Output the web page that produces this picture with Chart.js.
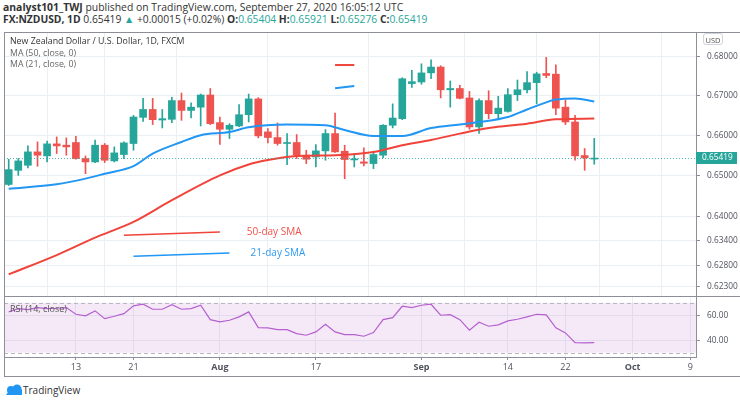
<!DOCTYPE html>
<html>
<head>
<meta charset="utf-8">
<script src="https://cdn.jsdelivr.net/npm/chart.js@4.4.0/dist/chart.umd.min.js"></script>
<style>
  body { margin: 0; background: #fff; font-family: "Open Sans", sans-serif; }
  #wrap { position: relative; width: 740px; height: 403px; overflow: hidden; }
  .abs { position: absolute; white-space: nowrap; }
  #head1 { left: 3px; top: 0px; font-size: 10.4px; color: #333; }
  #head2 { left: 3px; top: 12px; font-size: 10.3px; color: #333; }
  .up { color: #26a69a; }
  #frame { left: 4px; top: 32px; width: 740px; height: 345px; border-left: 1px solid #8c8f98; border-top: 1px solid #8c8f98; border-bottom: 1px solid #8c8f98; box-sizing: border-box; }
  #sep { left: 4px; top: 296px; width: 736px; height: 1px; background: #8c8f98; }
  #mainBox { left: 0; top: 32px; width: 740px; height: 265px; }
  #rsiBox { left: 0; top: 297px; width: 740px; height: 80px; }
  #legend { left: 10px; top: 36px; font-size: 8.8px; line-height: 11.5px; color: #666; }
  #legend div:first-child { color: #333; }
  #rsiTitle { left: 10px; top: 302px; font-size: 9px; color: #555; }
  #usd { left: 703px; top: 33px; width: 20px; height: 12px; border: 1px solid #d0d3d9; border-radius: 3px; font-size: 7.5px; color: #555; text-align: center; line-height: 12px; box-sizing: border-box; background: #fff; }
  #logo { left: 5px; top: 383px; font-size: 10px; color: #333; }
</style>
</head>
<body>
<div id="wrap">
  <div id="head1" class="abs"><b>analyst101_TWJ</b> published on TradingView.com, September 27, 2020 16:05:12 UTC</div>
  <div id="head2" class="abs"><b>FX:NZDUSD, 1D</b> 0.65419 <span class="up">&#9650;</span> +0.00015 (+0.02%) <b>O:</b><span class="up">0.65404</span> <b>H:</b><span class="up">0.65921</span> <b>L:</b><span class="up">0.65276</span> <b>C:</b><span class="up">0.65419</span></div>
  <div id="mainBox" class="abs"><canvas id="main" width="740" height="265"></canvas></div>
  <div id="rsiBox" class="abs"><canvas id="rsi" width="740" height="80"></canvas></div>
  <div id="frame" class="abs"></div>
  <div id="sep" class="abs"></div>
  <div id="legend" class="abs"><div>New Zealand Dollar / U.S. Dollar, 1D, FXCM</div><div>MA (50, close, 0)</div><div>MA (21, close, 0)</div></div>
  <div id="rsiTitle" class="abs">RSI (14, close)</div>
  <div id="usd" class="abs">USD</div>
  <div id="logo" class="abs">
    <svg width="18" height="12" viewBox="0 0 18 12" style="vertical-align:-2px"><path d="M1 11 L6 4 L10 8 L14 2 L17 6 L17 11 Z" fill="#2196f3"/><circle cx="6" cy="6" r="4" fill="#2196f3"/><circle cx="12" cy="5" r="4.5" fill="#2196f3"/></svg>TradingView
  </div>
</div>
<script>
// daily candles, index 0 = Jul 2 2020 ... 61 = Sep 25 2020
var open  = [0.64775,0.65125,0.65250,0.65583,0.65483,0.65783,0.65750,0.65817,0.65417,0.65333,
             0.65750,0.65358,0.65517,0.65792,0.66450,0.66650,0.66383,0.66400,0.66875,0.66625,
             0.66708,0.67017,0.66317,0.66150,0.66233,0.66517,0.66917,0.66083,0.65942,0.65792,
             0.65817,0.65500,0.65458,0.65608,0.66042,0.65600,0.65383,0.65333,0.65292,0.65500,
             0.66250,0.66417,0.67308,0.67350,0.67583,0.67733,0.67150,0.67183,0.66942,0.66208,
             0.66875,0.66542,0.66600,0.67025,0.67150,0.67333,0.67567,0.67550,0.66708,0.66333,
             0.65492,0.65404];
var high  = [0.65400,0.65417,0.65733,0.65833,0.65850,0.65958,0.65933,0.65975,0.65483,0.65875,
             0.65792,0.65708,0.65833,0.66500,0.66933,0.66933,0.66650,0.66958,0.67067,0.66817,
             0.67042,0.67183,0.66458,0.66292,0.66775,0.67042,0.66950,0.66167,0.66308,0.66042,
             0.66017,0.65625,0.65767,0.66142,0.66558,0.65750,0.65542,0.65683,0.65600,0.66267,
             0.66792,0.67458,0.67650,0.67817,0.67917,0.67767,0.67375,0.67267,0.67108,0.66917,
             0.67125,0.66983,0.67183,0.67400,0.67617,0.67600,0.67983,0.67792,0.66892,0.66500,
             0.65667,0.65921];
var low   = [0.64750,0.65000,0.65183,0.65225,0.65333,0.65542,0.65500,0.65400,0.65042,0.65317,
             0.65317,0.65333,0.65417,0.65625,0.66350,0.66267,0.66183,0.66317,0.66375,0.66433,
             0.66233,0.66267,0.65767,0.65917,0.66217,0.66333,0.65933,0.65808,0.65750,0.65267,
             0.65417,0.65292,0.65208,0.65375,0.65567,0.64917,0.65208,0.65233,0.65167,0.65433,
             0.66183,0.66392,0.67208,0.67292,0.67433,0.66942,0.66708,0.66917,0.66150,0.66042,
             0.66417,0.66417,0.66583,0.66875,0.67067,0.66792,0.67458,0.66517,0.66267,0.65375,
             0.65125,0.65276];
var close = [0.65142,0.65358,0.65583,0.65500,0.65783,0.65733,0.65708,0.65417,0.65333,0.65750,
             0.65375,0.65558,0.65808,0.66458,0.66650,0.66392,0.66417,0.66875,0.66625,0.66708,
             0.67017,0.66292,0.66150,0.66250,0.66517,0.66917,0.65983,0.65942,0.65792,0.65808,
             0.65500,0.65400,0.65608,0.66042,0.65583,0.65392,0.65400,0.65300,0.65517,0.66250,
             0.66433,0.67433,0.67358,0.67583,0.67733,0.67150,0.67183,0.66933,0.66208,0.66875,
             0.66542,0.66683,0.67025,0.67150,0.67333,0.67558,0.67517,0.66683,0.66333,0.65483,
             0.65433,0.65419];

// moving averages (bar index, value)
var ma50Idx = [0, 5, 9, 13, 17, 22, 25, 27, 30, 34, 38, 41, 44, 47, 50, 54, 57, 61];
var ma50Val = [0.6260,0.6306,0.6348,0.6386,0.6439,0.6500,0.6527,0.6538,0.6548,0.6550,0.6558,0.6575,0.6588,0.6604,0.6618,0.6629,0.6640,0.6642];
var ma21Idx = [0, 5, 8, 10, 13, 15, 18, 20, 23, 25, 29, 33, 35, 38, 41, 44, 47, 49, 52, 54, 56, 57, 59, 61];
var ma21Val = [0.6467,0.6478,0.6492,0.6504,0.6523,0.6554,0.6583,0.6600,0.6608,0.6620,0.6627,0.6625,0.6613,0.6598,0.6598,0.6618,0.6627,0.6633,0.6646,0.6665,0.6683,0.6690,0.6693,0.6685];

// RSI(14)
var rsi = [62.7,65.3,64.5,66.1,65.3,65.6,66.1,60.8,59.5,63.5,
           57.3,59.2,61.3,67.5,68.8,64.8,64.8,68.5,64.8,65.3,
           68.0,56.5,54.7,56.0,58.7,62.7,50.1,49.9,48.5,48.5,
           45.3,44.0,46.7,52.8,46.7,44.5,44.5,43.2,46.1,56.5,
           58.1,67.2,66.1,68.0,68.8,60.0,60.5,56.5,48.0,54.4,
           51.2,52.3,55.5,56.8,58.7,60.8,60.3,49.9,45.9,38.1,
           37.9,38.1];

// time axis
var tickIdx = [7, 13, 22, 32, 43, 52, 58, 65, 71];
var tickLabels = ['13', '21', 'Aug', '17', 'Sep', '14', '22', 'Oct', '9'];
var monthTicks = ['Aug', 'Sep', 'Oct'];
var priceTicks = [0.623, 0.628, 0.634, 0.640, 0.650, 0.660, 0.670, 0.680];
var rsiTicks = [40, 60];
var rsiUpper = 70, rsiLower = 30;
var lastPrice = 0.65419;

// hand drawn lines on the chart (bar index, price)
var drawRed1 = [[34, 0.67785], [36, 0.67785]];
var drawBlue1 = [[34, 0.67187], [36, 0.67245]];
var drawRed2 = [[12, 0.63537], [22, 0.63617]];
var drawBlue2 = [[13, 0.63031], [23, 0.63111]];
var noteRed = [24.8, 0.6362, '50-day SMA'];
var noteBlue = [25.2, 0.6311, '21-day SMA'];

var GREEN = '#26a69a', RED = '#ef5350';
var GRID = '#eaeff4';
var AXIS_TEXT = '#50535e';
var xMin = -0.49, xMax = 71.6;

var candleColors = close.map((c, i) => c >= open[i] ? GREEN : RED);

function pts(a) { return a.map(p => ({x: p[0], y: p[1]})) }

function noPad(scale) {
    scale.paddingTop = 0; scale.paddingBottom = 0;
    scale.paddingLeft = 0; scale.paddingRight = 0;
}

var priceLinePlugin = {
    id: 'priceLine',
    afterDatasetsDraw(chart) {
        var ctx = chart.ctx, a = chart.chartArea;
        var y = chart.scales.y.getPixelForValue(lastPrice);
        ctx.save();
        ctx.strokeStyle = 'rgba(38,166,154,0.8)';
        ctx.lineWidth = 1;
        ctx.setLineDash([1, 2]);
        ctx.beginPath();
        ctx.moveTo(a.left, Math.round(y) + 0.5);
        ctx.lineTo(a.right, Math.round(y) + 0.5);
        ctx.stroke();
        ctx.setLineDash([]);
        ctx.fillStyle = GREEN;
        ctx.fillRect(a.right, Math.round(y) - 6, 41, 12);
        ctx.fillStyle = '#fff';
        ctx.font = '8.3px "Open Sans"';
        ctx.textBaseline = 'middle';
        ctx.fillText(lastPrice.toFixed(5), a.right + 6, Math.round(y));
        // notes for the drawn lines
        ctx.font = '10px "Open Sans"';
        [[noteRed, '#f0524a'], [noteBlue, '#2f9bf0']].forEach(n => {
            ctx.fillStyle = n[1];
            ctx.fillText(n[0][2], chart.scales.x.getPixelForValue(n[0][0]), chart.scales.y.getPixelForValue(n[0][1]));
        });
        ctx.restore();
    }
};

var rsiBandPlugin = {
    id: 'rsiBand',
    beforeDatasetsDraw(chart) {
        var ctx = chart.ctx, a = chart.chartArea, s = chart.scales.y;
        var y1 = s.getPixelForValue(rsiUpper), y2 = s.getPixelForValue(rsiLower);
        ctx.save();
        ctx.fillStyle = 'rgba(156, 39, 176, 0.1)';
        ctx.fillRect(a.left, y1, a.right - a.left, y2 - y1);
        ctx.strokeStyle = '#b5b8c0';
        ctx.lineWidth = 1;
        ctx.setLineDash([4, 3]);
        [y1, y2].forEach(y => {
            ctx.beginPath();
            ctx.moveTo(a.left, Math.round(y) + 0.5);
            ctx.lineTo(a.right, Math.round(y) + 0.5);
            ctx.stroke();
        });
        ctx.restore();
    }
};

Chart.defaults.font.family = '"Open Sans", sans-serif';
Chart.defaults.animation = false;

var mainChart = new Chart(document.getElementById('main'), {
    type: 'bar',
    data: {
        datasets: [
            { type: 'line', data: ma50Idx.map((x, k) => ({x: x, y: ma50Val[k]})), borderColor: '#f0443a', borderWidth: 2, pointRadius: 0, cubicInterpolationMode: 'monotone', order: 0 },
            { type: 'line', data: ma21Idx.map((x, k) => ({x: x, y: ma21Val[k]})), borderColor: '#2196f3', borderWidth: 2, pointRadius: 0, cubicInterpolationMode: 'monotone', order: 0 },
            { type: 'line', data: pts(drawRed1), borderColor: '#f0443a', borderWidth: 2, pointRadius: 0, order: 0 },
            { type: 'line', data: pts(drawBlue1), borderColor: '#2196f3', borderWidth: 2, pointRadius: 0, order: 0 },
            { type: 'line', data: pts(drawRed2), borderColor: '#f0443a', borderWidth: 1.5, pointRadius: 0, order: 0 },
            { type: 'line', data: pts(drawBlue2), borderColor: '#2196f3', borderWidth: 1.5, pointRadius: 0, order: 0 },
            { data: open.map((o, i) => ({x: i, y: [open[i], close[i]]})), backgroundColor: candleColors, barThickness: 7, grouped: false, minBarLength: 1, order: 1 },
            { data: open.map((o, i) => ({x: i, y: [low[i], high[i]]})), backgroundColor: candleColors, barThickness: 1, grouped: false, order: 2 }
        ]
    },
    options: {
        responsive: false,
        layout: { padding: { left: 4, top: 0, right: 0, bottom: 0 } },
        plugins: { legend: { display: false }, tooltip: { enabled: false } },
        scales: {
            x: {
                type: 'linear', min: xMin, max: xMax, offset: false,
                ticks: { display: false },
                grid: { color: GRID, drawTicks: false },
                border: { display: false },
                afterBuildTicks: s => { s.ticks = tickIdx.map(v => ({value: v})) },
                afterFit: s => { noPad(s); s.height = 0 }
            },
            y: {
                type: 'logarithmic', position: 'right', min: 0.62062, max: 0.68642,
                afterBuildTicks: s => { s.ticks = priceTicks.map(v => ({value: v})) },
                ticks: { callback: v => Number(v).toFixed(5), color: AXIS_TEXT, font: { size: 8.3 }, padding: 7 },
                grid: { color: GRID, tickLength: 4, tickColor: '#8c8f98' },
                border: { color: '#8c8f98' },
                afterFit: s => { noPad(s); s.width = 44 }
            }
        }
    },
    plugins: [priceLinePlugin]
});

var rsiChart = new Chart(document.getElementById('rsi'), {
    type: 'line',
    data: {
        datasets: [
            { data: rsi.map((v, i) => ({x: i, y: v})), borderColor: '#b560d0', borderWidth: 1.2, pointRadius: 0 }
        ]
    },
    options: {
        responsive: false,
        layout: { padding: { left: 4, top: 0, right: 0, bottom: 0 } },
        plugins: { legend: { display: false }, tooltip: { enabled: false } },
        scales: {
            x: {
                type: 'linear', min: xMin, max: xMax,
                afterBuildTicks: s => { s.ticks = tickIdx.map(v => ({value: v})) },
                ticks: {
                    callback: v => tickLabels[tickIdx.indexOf(v)],
                    color: AXIS_TEXT, maxRotation: 0, autoSkip: false, padding: 2,
                    font: ctx => ({ size: 9, weight: monthTicks.includes(tickLabels[ctx.index]) ? 'bold' : 'normal' })
                },
                grid: { color: GRID, tickLength: 3, tickColor: '#8c8f98' },
                border: { color: '#8c8f98' },
                afterFit: s => { noPad(s); s.height = 20 }
            },
            y: {
                position: 'right', min: 26.6, max: 74.6,
                afterBuildTicks: s => { s.ticks = rsiTicks.map(v => ({value: v})) },
                ticks: { callback: v => Number(v).toFixed(2), color: AXIS_TEXT, font: { size: 8.3 }, padding: 7 },
                grid: { color: GRID, tickLength: 4, tickColor: '#8c8f98' },
                border: { color: '#8c8f98' },
                afterFit: s => { noPad(s); s.width = 44 }
            }
        }
    },
    plugins: [rsiBandPlugin]
});
</script>
</body>
</html>
